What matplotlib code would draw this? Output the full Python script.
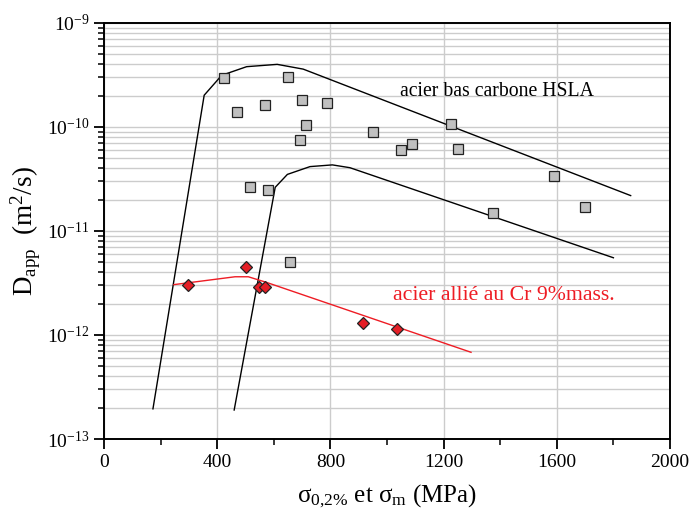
import matplotlib
matplotlib.use("Agg")
import matplotlib.pyplot as plt
import numpy as np
from matplotlib.ticker import FixedLocator, NullFormatter, LogLocator

plt.rcParams['font.family'] = ['Liberation Serif', 'DejaVu Serif']
plt.rcParams['mathtext.fontset'] = 'custom'
plt.rcParams['mathtext.rm'] = 'Liberation Serif'
plt.rcParams['mathtext.it'] = 'Liberation Serif:italic'
plt.rcParams['mathtext.bf'] = 'Liberation Serif:bold'

# HSLA low-carbon steel data (grey squares)
hsla_x = [424, 470, 568, 649, 699, 715, 694, 787, 515, 578, 657,
          949, 1049, 1088, 1225, 1250, 1590, 1373, 1701]
hsla_y = [2.96e-10, 1.39e-10, 1.64e-10, 3.03e-10, 1.81e-10, 1.05e-10, 7.55e-11,
          1.70e-10, 2.63e-11, 2.5e-11, 5.03e-12,
          8.95e-11, 6.0e-11, 6.8e-11, 1.08e-10, 6.1e-11, 3.4e-11, 1.5e-11, 1.70e-11]

# Cr 9% alloyed steel data (red diamonds)
cr_x = [298, 502, 547, 569, 916, 1037]
cr_y = [3.05e-12, 4.54e-12, 2.92e-12, 2.92e-12, 1.30e-12, 1.13e-12]

# Upper envelope curve
up_x = [173, 354, 416, 504, 612, 704, 1861]
up_y = [1.95e-13, 2.02e-10, 3.14e-10, 3.8e-10, 4.0e-10, 3.6e-10, 2.19e-11]

# Lower envelope curve
lo_x = [460, 605, 648, 728, 807, 869, 1800]
lo_y = [1.9e-13, 2.63e-11, 3.5e-11, 4.16e-11, 4.32e-11, 4.06e-11, 5.53e-12]

# Cr steel trend line
cr_line_x = [247, 463, 510, 575, 1297]
cr_line_y = [3.05e-12, 3.63e-12, 3.63e-12, 3.2e-12, 6.82e-13]

xticks = [0, 400, 800, 1200, 1600, 2000]
yticks = [1e-13, 1e-12, 1e-11, 1e-10, 1e-9]
ytick_labels = [r'$10^{-13}$', r'$10^{-12}$', r'$10^{-11}$', r'$10^{-10}$', r'$10^{-9}$']

fig = plt.figure(figsize=(6.91, 5.14), dpi=100)
ax = fig.add_axes([0.1505, 0.1459, 0.8191, 0.8094])
ax.set_yscale('log')
ax.set_xlim(0, 2000)
ax.set_ylim(1e-13, 1e-9)

ax.plot(up_x, up_y, color='black', lw=1.0, zorder=3)
ax.plot(lo_x, lo_y, color='black', lw=1.0, zorder=3)
ax.plot(cr_line_x, cr_line_y, color='#ee1c24', lw=1.0, zorder=3)
ax.plot(hsla_x, hsla_y, linestyle='none', marker='s', markersize=6.8,
        markerfacecolor='#c0c0c0', markeredgecolor='#222222', markeredgewidth=0.9, zorder=4)
ax.plot(cr_x, cr_y, linestyle='none', marker='D', markersize=6.2,
        markerfacecolor='#e41e26', markeredgecolor='#222222', markeredgewidth=0.9, zorder=5)

ax.set_xticks(xticks)
ax.set_xticklabels([str(v) for v in xticks])
ax.xaxis.set_minor_locator(FixedLocator([200, 600, 1000, 1400, 1800]))
ax.set_yticks(yticks)
ax.set_yticklabels(ytick_labels)
ax.yaxis.set_minor_locator(LogLocator(base=10, subs=np.arange(2, 10), numticks=20))
ax.yaxis.set_minor_formatter(NullFormatter())

ax.grid(True, which='major', axis='x', color='#cccccc', lw=1.0)
ax.grid(True, which='both', axis='y', color='#cccccc', lw=1.0)
ax.set_axisbelow(True)

ax.tick_params(axis='both', which='major', direction='out', length=7, width=1.3,
               labelsize=14, color='black')
ax.tick_params(axis='both', which='minor', direction='out', length=4, width=1.1)
ax.tick_params(axis='x', which='major', pad=4)
for s in ax.spines.values():
    s.set_linewidth(1.4)

ax.set_xlabel('σ$_{\\mathrm{0{,}2\\%}}$ et σ$_{\\mathrm{m}}$ (MPa)', fontsize=18, labelpad=8)
ax.set_ylabel('D$_{\\mathrm{app}}$  (m$^{2}$/s)', fontsize=19.5, labelpad=3)

ax.text(1389, 2.17e-10, 'acier bas carbone HSLA', fontsize=14.2, ha='center', va='center', color='black')
ax.text(1412, 2.39e-12, 'acier allié au Cr 9%mass.', fontsize=15.7, ha='center', va='center', color='#ee1c24')

fig.savefig('out.png', dpi=100)
